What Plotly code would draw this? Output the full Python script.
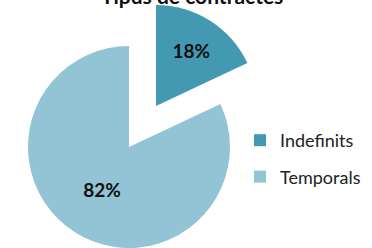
import plotly.graph_objects as go

# ---- data ----
title_text = "Tipus de contractes"
categories = ["Indefinits", "Temporals"]
values = [18, 82]
colors = ["#4399B1", "#93C4D6"]

W, H = 372, 248
R = 101
light_c = (129, 147)
dark_c = (156, 106)


def dom(cx, cy, r):
    return dict(x=[(cx - r) / W, (cx + r) / W],
                y=[max(0, (H - cy - r) / H), min(1, (H - cy + r) / H)])


transparent = "rgba(0,0,0,0)"
fig = go.Figure()

# legend carriers (tiny, hidden beneath the exploded slice)
for i, (lab, val, col) in enumerate(zip(categories, values, colors)):
    fig.add_trace(go.Pie(
        labels=[lab], values=[val], marker=dict(colors=[col]),
        domain=dom(205, 70, 2), textinfo="none", hoverinfo="skip",
        legendgroup=f"g{i}", showlegend=True, sort=False))

label_font = dict(family="Lato", size=19, color="#111", weight="bold")

# main (non-exploded) slice
fig.add_trace(go.Pie(
    labels=categories, values=values,
    marker=dict(colors=[transparent, colors[1]], line=dict(width=0)),
    domain=dom(*light_c, R), sort=False, direction="clockwise", rotation=0,
    textinfo="percent", textposition=["none", "inside"],
    insidetextorientation="horizontal", textfont=label_font,
    hoverinfo="skip", showlegend=False))

# exploded slice
fig.add_trace(go.Pie(
    labels=categories, values=values,
    marker=dict(colors=[colors[0], transparent], line=dict(width=0)),
    domain=dom(*dark_c, R), sort=False, direction="clockwise", rotation=0,
    textinfo="percent", textposition=["inside", "none"],
    insidetextorientation="horizontal", textfont=label_font,
    hoverinfo="skip", showlegend=False))

fig.update_layout(
    width=W, height=H,
    margin=dict(l=0, r=0, t=0, b=0),
    paper_bgcolor="white", plot_bgcolor="white",
    annotations=[dict(text=title_text, x=192 / W, xref="paper", xanchor="center",
                      y=1, yref="paper", yanchor="bottom", yshift=-10,
                      showarrow=False,
                      font=dict(family="Lato", size=21, color="#111", weight="bold"))],
    legend=dict(x=240 / W, xanchor="left", y=(H - 122) / H, yanchor="top",
                font=dict(family="Lato", size=18, color="#222"),
                tracegroupgap=10, traceorder="grouped",
                bgcolor="rgba(0,0,0,0)"),
    showlegend=True,
)

fig.write_html("out.html",
               config={"displayModeBar": False},
               post_script="document.body.style.margin='0';"
                           "document.body.style.overflow='hidden';")
